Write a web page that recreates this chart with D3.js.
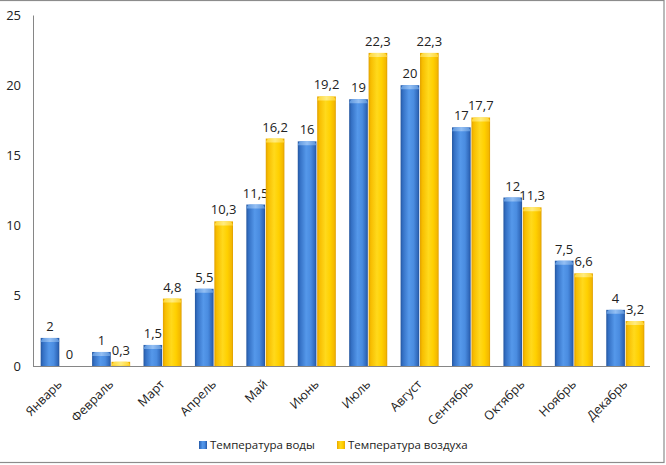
<!DOCTYPE html>
<html><head><meta charset="utf-8">
<script src="https://cdn.jsdelivr.net/npm/d3@7"></script>
<style>body{margin:0;background:#fff}text{font-family:"Open Sans","Noto Sans",sans-serif}</style>
</head><body><svg id="c" width="666" height="465"></svg>
<script>
const months = ["Январь","Февраль","Март","Апрель","Май","Июнь","Июль","Август","Сентябрь","Октябрь","Ноябрь","Декабрь"];
const water = [2,1,1.5,5.5,11.5,16,19,20,17,12,7.5,4];
const air = [0,0.3,4.8,10.3,16.2,19.2,22.3,22.3,17.7,11.3,6.6,3.2];
const seriesNames = ["Температура воды","Температура воздуха"];
const yTicks = [0,5,10,15,20,25];

const svg = d3.select("#c");
const defs = svg.append("defs");
function grad(id, stops, vertical){
  const g = defs.append("linearGradient").attr("id", id)
    .attr("x1",0).attr("y1",0).attr("x2",vertical?0:1).attr("y2",vertical?1:0);
  stops.forEach(s=>g.append("stop").attr("offset",s[0]).attr("stop-color",s[1]).attr("stop-opacity",s[2]==null?1:s[2]));
}
grad("gb",[[0,"#24569f"],[0.12,"#3470c4"],[0.45,"#5598ea"],[0.7,"#4a8ce0"],[0.92,"#3068ba"],[1,"#22529a"]]);
grad("gy",[[0,"#e0a000"],[0.12,"#f7bd00"],[0.45,"#ffd91c"],[0.7,"#ffd000"],[0.92,"#f4b800"],[1,"#dc9c00"]]);
grad("gbt",[[0,"#5c95dc"],[0.5,"#93bff4"],[1,"#5a92d8"]]);
grad("gyt",[[0,"#ffd633"],[0.5,"#ffec80"],[1,"#ffd22a"]]);

// frame
svg.append("rect").attr("x",-2).attr("y",0.5).attr("width",666).attr("height",462)
  .attr("fill","none").attr("stroke","#8c8c8c").attr("stroke-width",1.2);

const x0 = d3.scaleBand().domain(months).range([34,651]).paddingInner(0.26).paddingOuter(0.13);
const x1 = d3.scaleBand().domain([0,1]).range([0,x0.bandwidth()]).paddingInner(0.04);
const y = d3.scaleLinear().domain([0,25]).range([366,15]);

const yAxis = svg.append("g").attr("transform","translate(33,0)")
  .call(d3.axisLeft(y).tickValues(yTicks).tickSize(0).tickPadding(12));
yAxis.select(".domain").attr("stroke","#868686");
yAxis.selectAll("text").attr("font-size",13).attr("fill","#222");

const xAxis = svg.append("g").attr("transform","translate(0,366)")
  .call(d3.axisBottom(x0).tickSize(0).tickSizeOuter(0));
xAxis.select(".domain").attr("stroke","#868686").attr("d","M33,0.5H650");
xAxis.selectAll("text").attr("font-size",12.5).attr("fill","#222")
  .attr("text-anchor","end").attr("dy",0).attr("y",0)
  .attr("transform","translate(3,19) rotate(-45)");

const data = months.map((m,i)=>({m, vals:[water[i],air[i]]}));
const fmt = v => String(v).replace(".",",");
const g = svg.append("g");
data.forEach(d=>{
  d.vals.forEach((v,k)=>{
    const bx = x0(d.m)+x1(k), bw = x1.bandwidth();
    const top = y(v), h = y(0)-top;
    if(h>0){
      g.append("rect").attr("x",bx).attr("y",top).attr("width",bw).attr("height",h)
        .attr("fill",k?"url(#gy)":"url(#gb)");
      const ch = Math.min(4,h);
      g.append("path").attr("d",`M${bx},${top+ch}Q${bx+1},${top} ${bx+4},${top}H${bx+bw-4}Q${bx+bw-1},${top} ${bx+bw},${top+ch}Z`)
        .attr("fill",k?"url(#gyt)":"url(#gbt)");
    }
    g.append("text").attr("x",bx+bw/2).attr("y",top-7).attr("text-anchor","middle")
      .attr("font-size",13).attr("fill","#222").text(fmt(v));
  });
});

// legend
const leg = [{x:199,c:"url(#gb)",t:seriesNames[0]},{x:337,c:"url(#gy)",t:seriesNames[1]}];
leg.forEach(l=>{
  svg.append("rect").attr("x",l.x).attr("y",441).attr("width",8).attr("height",8).attr("fill",l.c);
  svg.append("text").attr("x",l.x+11).attr("y",449).attr("font-size",11.5).attr("fill","#222").text(l.t);
});
</script></body></html>
